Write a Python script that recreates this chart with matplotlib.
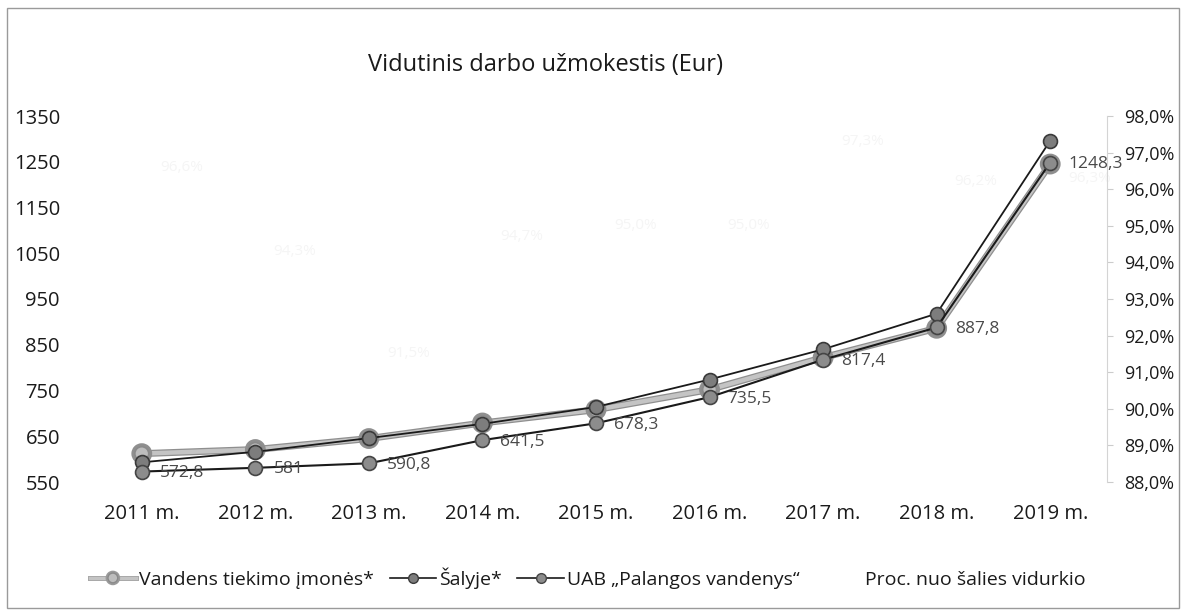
"""
Vidutinis darbo užmokestis (Eur) - line chart recreation
"""

import matplotlib
matplotlib.use('Agg')
import matplotlib.pyplot as plt
import matplotlib.patheffects as pe
from matplotlib.lines import Line2D
from matplotlib.patches import Rectangle
from matplotlib.ticker import FuncFormatter, MultipleLocator
import numpy as np

plt.rcParams['font.family'] = ['Open Sans', 'DejaVu Sans']

# Data
years = ['2011 m.', '2012 m.', '2013 m.', '2014 m.', '2015 m.',
         '2016 m.', '2017 m.', '2018 m.', '2019 m.']
vandens = [612, 621, 645, 679, 708, 752, 822, 886, 1245]
salyje = [593, 616, 646, 677, 714, 774, 840, 918, 1296]
palanga = [572.8, 581, 590.8, 641.5, 678.3, 735.5, 817.4, 887.8, 1248.3]
proc = [96.6, 94.3, 91.5, 94.7, 95.0, 95.0, 97.3, 96.2, 96.3]
left_ticks = [550, 650, 750, 850, 950, 1050, 1150, 1250, 1350]

label_vandens = 'Vandens tiekimo įmonės*'
label_salyje = 'Šalyje*'
label_palanga = 'UAB „Palangos vandenys“'
label_proc = 'Proc. nuo šalies vidurkio'


def fmt_num(v):
    return ('%g' % v).replace('.', ',')


fig = plt.figure(figsize=(11.82, 6.16), dpi=100)
fig.patch.set_facecolor('white')

# outer chart border
fig.patches.append(Rectangle((7 / 1182, 8 / 616), 1172 / 1182, 600 / 616,
                             transform=fig.transFigure, fill=False,
                             edgecolor='#9a9a9a', linewidth=1.0))

ax = fig.add_axes([85 / 1182, (616 - 482) / 616, 1022 / 1182, 366 / 616])
ax2 = ax.twinx()

x = np.arange(len(years))

# ============ lines ============
ax.plot(x, vandens, color='#c4c4c4', linewidth=3.2, marker='o', markersize=10,
        markerfacecolor='#bdbdbd', markeredgecolor='#8a8a8a', markeredgewidth=1.2,
        path_effects=[pe.Stroke(linewidth=5, foreground='#8f8f8f'), pe.Normal()],
        zorder=3)
ax.plot(x, salyje, color='#1a1a1a', linewidth=1.3, marker='o', markersize=10,
        markerfacecolor='#7d7d7d', markeredgecolor='#3a3a3a', markeredgewidth=1.2,
        zorder=4)
ax.plot(x, palanga, color='#1a1a1a', linewidth=1.5, marker='o', markersize=10,
        markerfacecolor='#8c8c8c', markeredgecolor='#454545', markeredgewidth=1.2,
        zorder=5)

for xi, v in zip(x, palanga):
    ax.annotate(fmt_num(v), xy=(xi, v), xytext=(13, -1), textcoords='offset points',
                ha='left', va='center', fontsize=12.5, color='#4a4a4a', zorder=6)

# percentage series: invisible line, barely visible labels (as in the scan)
ax2.plot(x, proc, color='none')
for xi, v in zip(x, proc):
    ax2.annotate(f'{v:.1f}%'.replace('.', ','), xy=(xi, v), xytext=(13, 0),
                 textcoords='offset points', ha='left', va='center',
                 fontsize=11, color='#f5f5f5', zorder=1)

# ============ axes ============
ax.set_xlim(-0.5, len(years) - 0.5)
ax.set_ylim(550, 1350)
ax.set_yticks(left_ticks)
ax.set_xticks(x)
ax.set_xticklabels(years)
ax.tick_params(axis='x', length=0, pad=16, labelsize=14.5, colors='#1a1a1a')
ax.tick_params(axis='y', length=0, pad=18, labelsize=14.5, colors='#1a1a1a')
for s in ax.spines.values():
    s.set_visible(False)

ax2.set_ylim(88, 98)
ax2.yaxis.set_major_locator(MultipleLocator(1))
ax2.yaxis.set_major_formatter(FuncFormatter(lambda v, p: f'{v:.1f}%'.replace('.', ',')))
ax2.tick_params(axis='y', length=4, direction='out', pad=8,
                labelsize=13, colors='#1a1a1a')
ax2.tick_params(axis='y', color='#cccccc')
for name, s in ax2.spines.items():
    s.set_visible(name == 'right')
ax2.spines['right'].set_color('#d4d4d4')
ax2.spines['right'].set_linewidth(0.8)

fig.text(545 / 1182, 1 - 65 / 616, 'Vidutinis darbo užmokestis (Eur)',
         ha='center', va='center', fontsize=17, color='#1a1a1a')

# ============ legend ============
handles = [
    Line2D([], [], color='#c4c4c4', linewidth=2.5, marker='o', markersize=7,
           markerfacecolor='#bdbdbd', markeredgecolor='#8a8a8a',
           path_effects=[pe.Stroke(linewidth=3.5, foreground='#9a9a9a'), pe.Normal()]),
    Line2D([], [], color='#1a1a1a', linewidth=1.2, marker='o', markersize=7,
           markerfacecolor='#7d7d7d', markeredgecolor='#3a3a3a'),
    Line2D([], [], color='#1a1a1a', linewidth=1.2, marker='o', markersize=7,
           markerfacecolor='#8c8c8c', markeredgecolor='#454545'),
    Line2D([], [], color='none'),
]
fig.legend(handles, [label_vandens, label_salyje, label_palanga, label_proc],
           loc='center', bbox_to_anchor=(0.497, 1 - 578 / 616), ncol=4,
           frameon=False, fontsize=14, handlelength=2.4, handletextpad=0.15,
           columnspacing=0.8, labelcolor='#1a1a1a')

plt.savefig('out.png', dpi=100, facecolor='white')
